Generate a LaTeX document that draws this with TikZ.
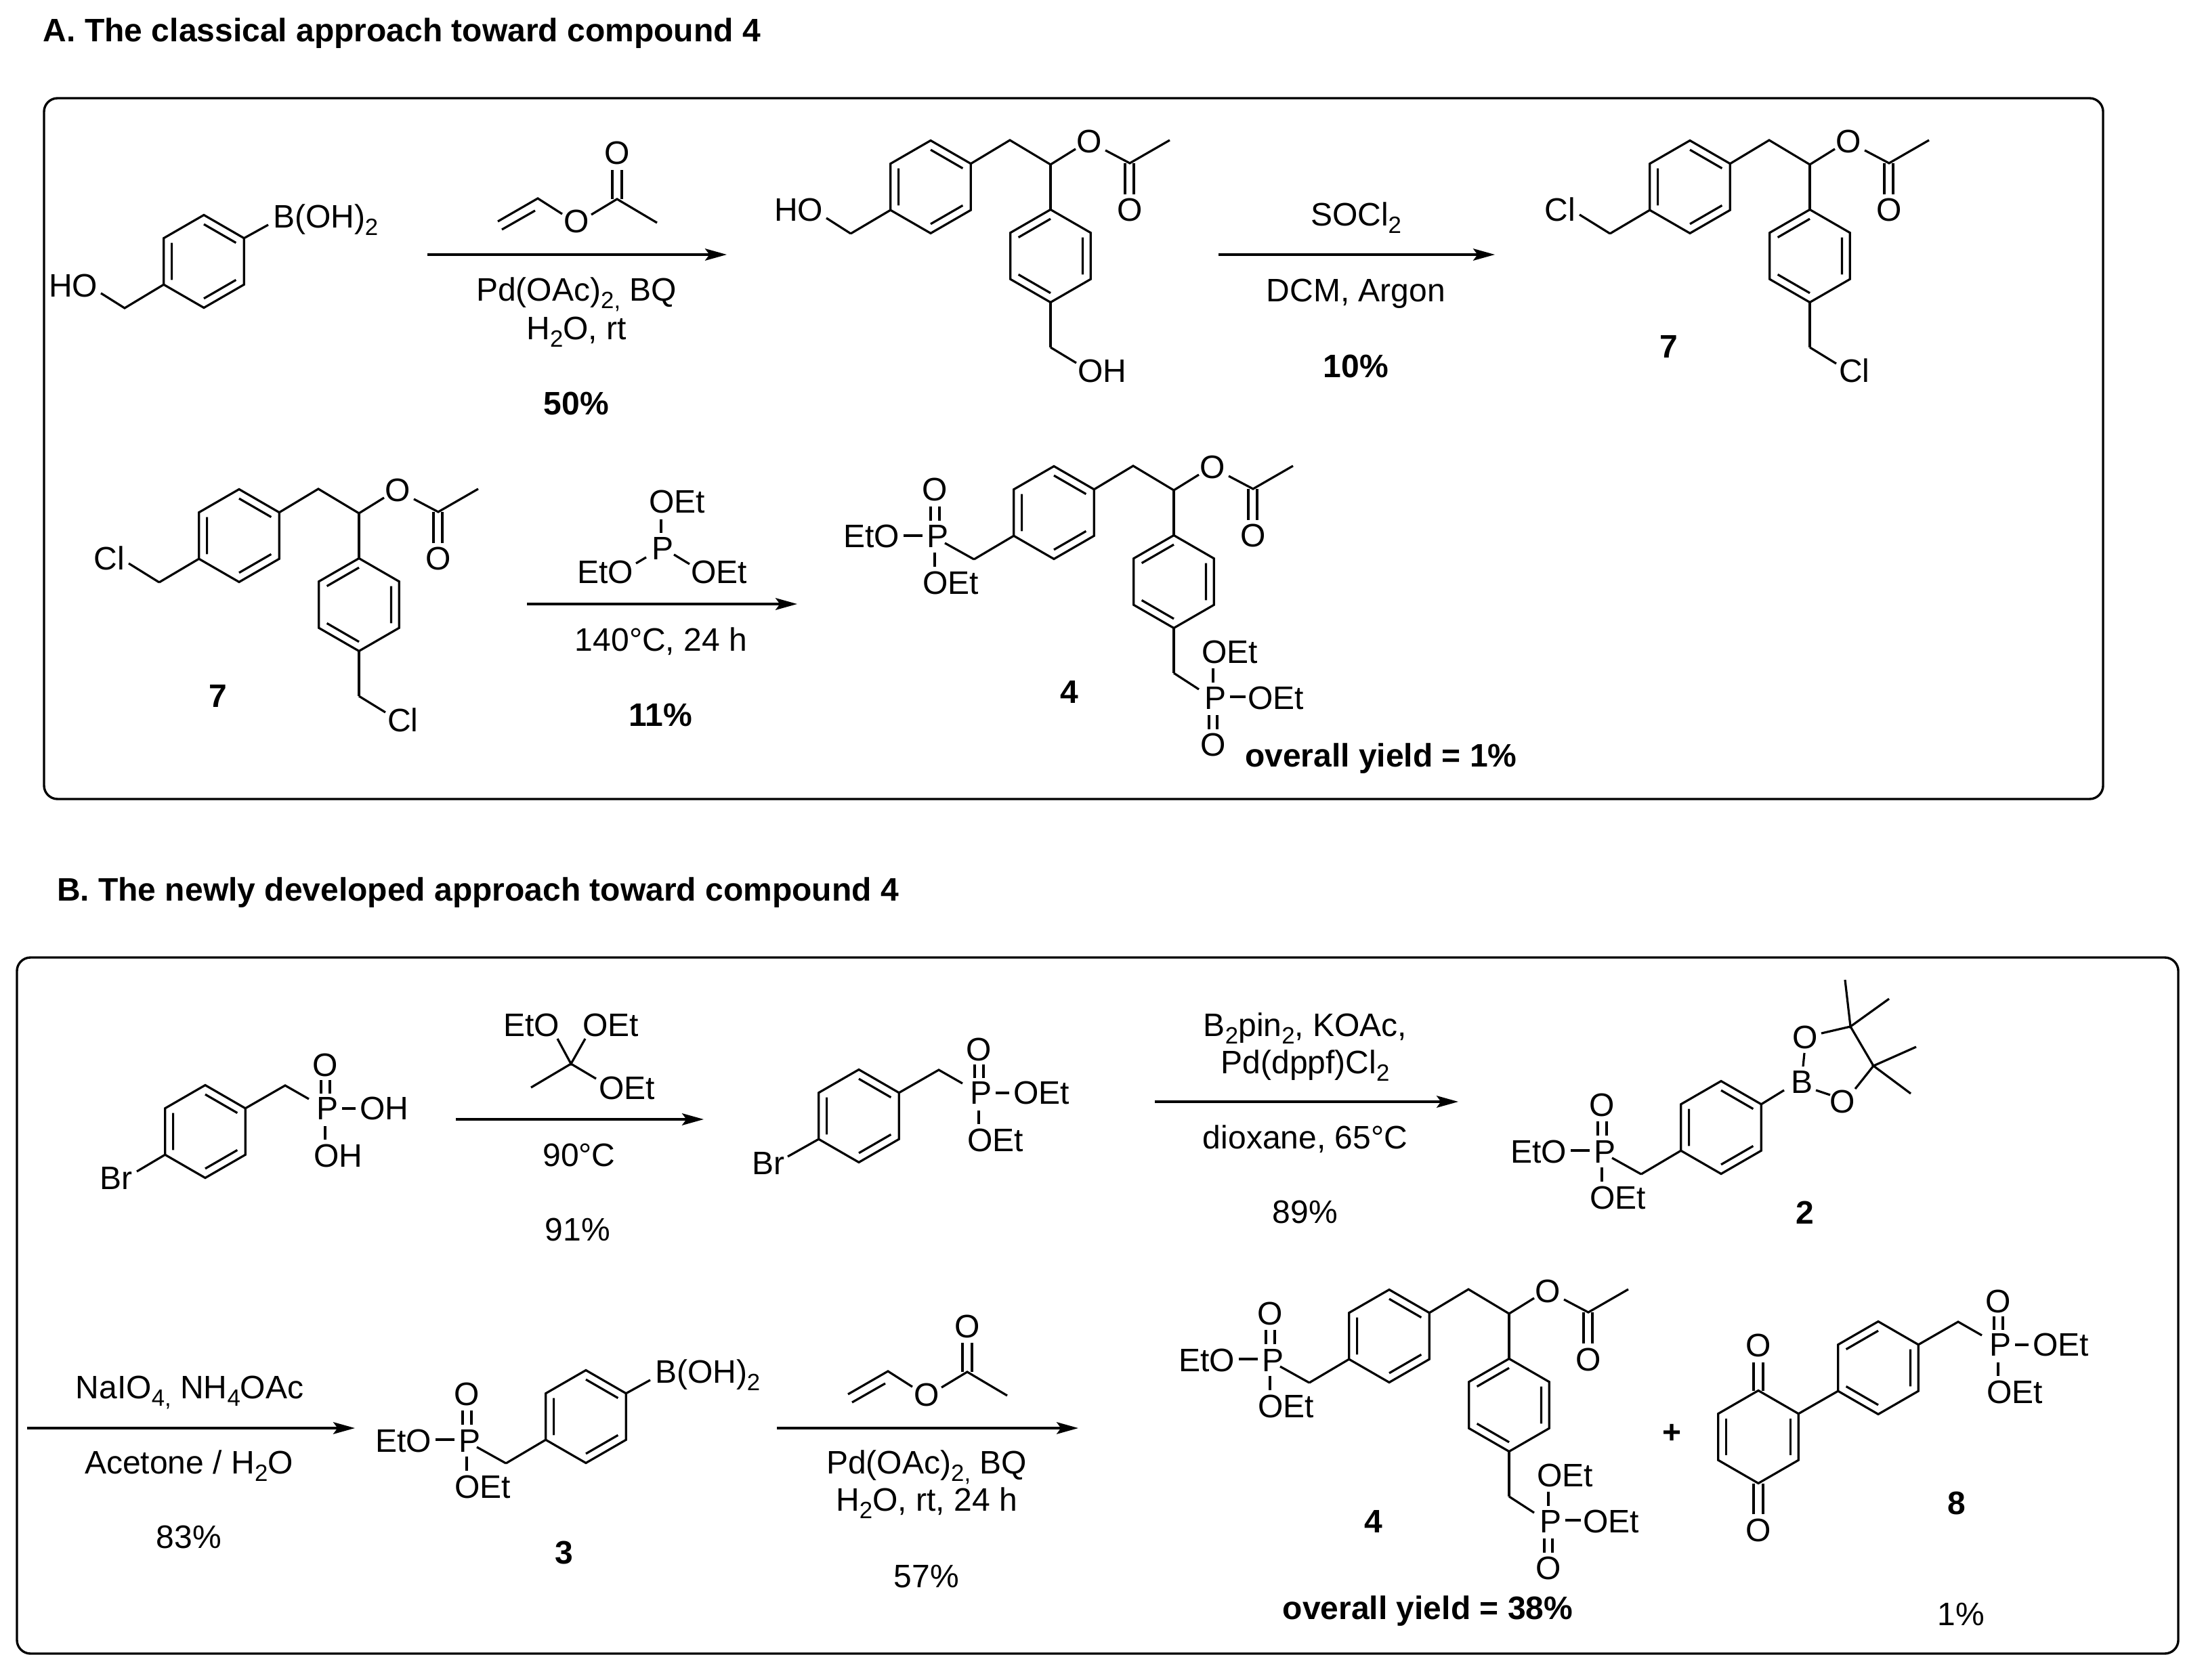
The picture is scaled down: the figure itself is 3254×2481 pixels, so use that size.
\documentclass[tikz,border=0pt]{standalone}
\usepackage{fontspec}
\setmainfont{Liberation Sans}
\usetikzlibrary{arrows.meta}
\newcount\chlabn
\newcommand\chsub[1]{\raisebox{-2.75pt}{\fontsize{8.7}{8.7}\selectfont #1}}
\newcommand\chlab[4]{\global\advance\chlabn by 1\relax\node[lbl,anchor=#1] (lab\the\chlabn) at (#2,#3) {#4};}
\newcommand\chbold[4]{\global\advance\chlabn by 1\relax\node[lbl,font=\fontsize{12}{14}\selectfont\bfseries,anchor=#1] (lab\the\chlabn) at (#2,#3) {#4};}
\tikzset{
  lbl/.style={inner sep=0pt,outer sep=0pt,font=\fontsize{12}{14}\selectfont},
  bond/.style={draw=black,line width=0.8pt,line join=miter},
  panel/.style={draw=black,line width=0.85pt,rounded corners=5pt},
  rxn/.style={draw=black,line width=0.85pt,-{Stealth[length=8pt,width=4.4pt,inset=1.6pt]}},
}
% para-substituted rings, two Kekule forms
\newcommand\benzOutline{\draw[bond] (0,-68.5)--(59.3,-34.25)--(59.3,34.25)--(0,68.5)--(-59.3,34.25)--(-59.3,-34.25)--cycle;}
\newcommand\benzA[2]{\begin{scope}[shift={(#1,#2)}]\benzOutline
  \draw[bond] (0,-54.8)--(47.4,-27.4) (47.4,27.4)--(0,54.8) (-47.4,27.4)--(-47.4,-27.4);\end{scope}}
\newcommand\benzB[2]{\begin{scope}[shift={(#1,#2)}]\benzOutline
  \draw[bond] (47.4,-27.4)--(47.4,27.4) (0,54.8)--(-47.4,27.4) (-47.4,-27.4)--(0,-54.8);\end{scope}}
% shared diaryl acetate core
\newcommand\diarylcore[2]{\begin{scope}[shift={(#1,#2)}]
  \benzA{1374}{276}
  \draw[bond] (1433.3,241.75)--(1491,207)--(1551,243)--(1588,220);
  \draw[bond] (1632,222)--(1668,241)--(1727,207);
  \draw[bond] (1661,241)--(1661,287) (1674,241)--(1674,287);
  \draw[bond] (1551,243)--(1551,309.5);
  \benzB{1551}{378}
  \draw[bond] (1551,446.5)--(1551,513);
  \draw[bond] (1314.7,310.25)--(1256,345);
  \chlab{base}{1608}{226}{O}
  \chlab{base}{1668}{327}{O}
\end{scope}}
% EtO-P(=O)(OEt)-CH2 group, left of a ring
\newcommand\phosL[2]{\begin{scope}[shift={(#1,#2)}]
  \draw[bond] (1438,826)--(1395,802);
  \draw[bond] (1334,791)--(1362,791);
  \draw[bond] (1374,748)--(1374,769) (1387,748)--(1387,769);
  \draw[bond] (1380,816)--(1380,837);
  \chlab{base west}{1368}{809}{P}
  \chlab{base east}{1328}{809}{EtO}
  \chlab{base}{1380}{740}{O}
  \chlab{base west}{1362}{877}{OEt}
\end{scope}}
\newcommand\ringphos[2]{\begin{scope}[shift={(#1,#2)}]
  \benzA{1556}{757}
  \draw[bond] (1496.7,791.25)--(1438,826);
  \phosL{0}{0}
\end{scope}}
% compound 4
\newcommand\prodfour[2]{\begin{scope}[shift={(#1,#2)}]
  \diarylcore{182}{481}
  \phosL{0}{0}
  \draw[bond] (1733,994)--(1770,1018);
  \draw[bond] (1791,987)--(1791,1008);
  \draw[bond] (1816,1029)--(1839,1029);
  \draw[bond] (1785,1056)--(1785,1077) (1797,1056)--(1797,1077);
  \chlab{base west}{1778}{1047}{P}
  \chlab{base west}{1774}{979}{OEt}
  \chlab{base west}{1842}{1047}{OEt}
  \chlab{base}{1791}{1116}{O}
\end{scope}}
% aryl-CH2-P(=O)(X)(Y) group, right of a ring
\newcommand\arylP[3]{\begin{scope}[shift={(#1,#2)}]
  \draw[bond] (362.3,1636.75)--(421,1603)--(456,1623);
  \draw[bond] (505,1637)--(525,1637);
  \draw[bond] (474,1595)--(474,1615) (487,1595)--(487,1615);
  \draw[bond] (480,1663)--(480,1683);
  \chlab{base west}{467}{1653}{P}
  \chlab{base west}{531}{1653}{#3}
  \chlab{base}{480}{1589}{O}
  \chlab{base west}{463}{1723}{#3}
\end{scope}}
% vinyl acetate
\newcommand\vinylacetate[2]{\begin{scope}[shift={(#1,#2)}]
  \draw[bond] (735,327)--(794,293)--(830,316);
  \draw[bond] (741,339)--(790,311);
  \draw[bond] (873,317)--(911,294)--(970,329);
  \draw[bond] (904,294)--(904,251) (918,294)--(918,251);
  \chlab{base}{851}{344}{O}
  \chlab{base}{911}{243}{O}
\end{scope}}
\begin{document}
\begin{tikzpicture}[x=0.25pt,y=-0.25pt]
\useasboundingbox (0,0) rectangle (3254,2481);
\fill[white] (0,0) rectangle (3254,2481);

% ---- titles and panels
\chbold{base west}{64}{62}{A. The classical approach toward compound 4}
\chbold{base west}{84}{1330}{B. The newly developed approach toward compound 4}
\draw[panel] (65,145) rectangle (3105,1180);
\draw[panel] (25,1414) rectangle (3216,2442);

% ---- panel A, first row
\benzA{301}{386}
\draw[bond] (241.7,420.25)--(184,455)--(149,433);
\draw[bond] (360.3,351.75)--(396,332);
\chlab{base east}{144}{439}{HO}
\chlab{base west}{403}{337}{B(OH)\chsub{2}}

\vinylacetate{0}{0}
\coordinate (a1s) at (631,376); \coordinate (a1e) at (1073,376);
\draw[rxn] (a1s) -- (a1e);
\chlab{base}{851}{445}{Pd(OAc)\chsub{2,} BQ}
\chlab{base}{851}{502}{H\chsub{2}O, rt}
\chbold{base}{851}{613}{50\%}

\diarylcore{0}{0}
\draw[bond] (1256,345)--(1220,322);
\draw[bond] (1551,513)--(1589,536);
\chlab{base east}{1215}{327}{HO}
\chlab{base west}{1591}{565}{OH}

\coordinate (a2s) at (1799,376); \coordinate (a2e) at (2207,376);
\draw[rxn] (a2s) -- (a2e);
\chlab{base}{2002}{334}{SOCl\chsub{2}}
\chlab{base}{2002}{446}{DCM, Argon}
\chbold{base}{2002}{558}{10\%}

\diarylcore{1121}{0}
\draw[bond] (2377,345)--(2332,317);
\draw[bond] (2672,513)--(2711,537);
\chlab{base east}{2326}{327}{Cl}
\chlab{base west}{2715}{565}{Cl}
\chbold{base}{2464}{529}{7}

% ---- panel A, second row
\diarylcore{-1021}{515}
\draw[bond] (235,860)--(190,832);
\draw[bond] (530,1028)--(569,1052);
\chlab{base east}{184}{842}{Cl}
\chlab{base west}{572}{1080}{Cl}
\chbold{base}{322}{1044}{7}

\draw[bond] (976,767)--(976,787);
\draw[bond] (939,832)--(954,823);
\draw[bond] (995,819)--(1018,833);
\chlab{base west}{962}{827}{P}
\chlab{base west}{958}{758}{OEt}
\chlab{base east}{935}{861}{EtO}
\chlab{base west}{1020}{861}{OEt}
\coordinate (a3s) at (778,892); \coordinate (a3e) at (1177,892);
\draw[rxn] (a3s) -- (a3e);
\chlab{base}{976}{961}{140°C, 24 h}
\chbold{base}{975}{1072}{11\%}

\prodfour{0}{0}
\chbold{base}{1579}{1038}{4}
\chbold{base west}{1838}{1132}{overall yield = 1\%}

% ---- panel B, first row
\benzA{303}{1671}
\draw[bond] (243.7,1705.25)--(202,1730);
\chlab{base west}{147}{1756}{Br}
\arylP{0}{0}{OH}

\draw[bond] (823,1534)--(843,1571)--(864,1534);
\draw[bond] (784,1606)--(843,1571)--(880,1593);
\chlab{base east}{826}{1530}{EtO}
\chlab{base west}{860}{1530}{OEt}
\chlab{base west}{884}{1623}{OEt}
\coordinate (b1s) at (673,1653); \coordinate (b1e) at (1039,1653);
\draw[rxn] (b1s) -- (b1e);
\chlab{base}{855}{1722}{90°C}
\chlab{base}{853}{1832}{91\%}

\benzA{1268}{1648}
\draw[bond] (1208.7,1682.25)--(1163,1708);
\chlab{base west}{1110}{1734}{Br}
\arylP{965}{-23}{OEt}

\coordinate (b2s) at (1705,1627); \coordinate (b2e) at (2153,1627);
\draw[rxn] (b2s) -- (b2e);
\chlab{base}{1927}{1530}{B\chsub{2}pin\chsub{2}, KOAc,}
\chlab{base}{1927}{1585}{Pd(dppf)Cl\chsub{2}}
\chlab{base}{1927}{1696}{dioxane, 65°C}
\chlab{base}{1927}{1806}{89\%}

\ringphos{985}{908}
\draw[bond] (2600.3,1630.75)--(2634,1610);
\chlab{base west}{2644}{1614}{B}
\chlab{base}{2665}{1548}{O}
\chlab{base}{2720}{1643}{O}
\draw[bond] (2662,1575)--(2664,1555);
\draw[bond] (2681,1610)--(2702,1617);
\draw[bond] (2689,1526)--(2732,1516)--(2766,1574)--(2739,1608);
\draw[bond] (2724,1447)--(2732,1516)--(2789,1475);
\draw[bond] (2829,1546)--(2766,1574)--(2821,1615);
\chbold{base}{2665}{1807}{2}

% ---- panel B, second row
\coordinate (b3s) at (40,2109); \coordinate (b3e) at (524,2109);
\draw[rxn] (b3s) -- (b3e);
\chlab{base}{280}{2065}{NaIO\chsub{4,} NH\chsub{4}OAc}
\chlab{base}{279}{2176}{Acetone / H\chsub{2}O}
\chlab{base}{279}{2286}{83\%}

\ringphos{-691}{1335}
\draw[bond] (924.3,2057.75)--(960,2038);
\chlab{base west}{967}{2042}{B(OH)\chsub{2}}
\chbold{base}{833}{2309}{3}

\vinylacetate{517}{1732}
\coordinate (b4s) at (1147,2109); \coordinate (b4e) at (1592,2109);
\draw[rxn] (b4s) -- (b4e);
\chlab{base}{1368}{2176}{Pd(OAc)\chsub{2,} BQ}
\chlab{base}{1368}{2231}{H\chsub{2}O, rt, 24 h}
\chlab{base}{1368}{2344}{57\%}

\prodfour{495}{1216}
\chbold{base}{2028}{2263}{4}
\chbold{base}{2108}{2391}{overall yield = 38\%}
\chbold{center}{2468}{2117}{+}

% quinone 8
\begin{scope}[shift={(2596,2122)}]\benzOutline
  \draw[bond] (47.4,-27.4)--(47.4,27.4) (-47.4,-27.4)--(-47.4,27.4);
  \draw[bond] (-7,-68.5)--(-7,-110) (7,-68.5)--(7,-110);
  \draw[bond] (-7,68.5)--(-7,114) (7,68.5)--(7,114);
\end{scope}
\chlab{base}{2596}{2003}{O}
\chlab{base}{2596}{2276}{O}
\draw[bond] (2655.3,2087.75)--(2713.7,2054.25);
\benzB{2773}{2020}
\arylP{2470}{349}{OEt}
\chbold{base}{2889}{2236}{8}
\chlab{base}{2895}{2400}{1\%}
\end{tikzpicture}
\end{document}
